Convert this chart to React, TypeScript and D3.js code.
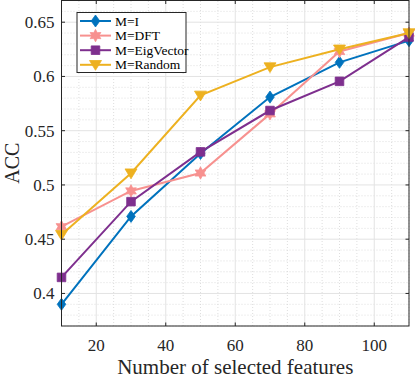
import React from 'react';
import * as d3 from 'd3';

// Data
const features = [10, 30, 50, 70, 90, 110];
const accIdentity = [0.390, 0.471, 0.529, 0.581, 0.613, 0.633];
const accDFT = [0.4615, 0.4945, 0.511, 0.5655, 0.623, 0.640];
const accEig = [0.4148, 0.4846, 0.5305, 0.5686, 0.5955, 0.6363];
const accRandom = [0.4541, 0.5108, 0.5825, 0.6086, 0.625, 0.640];
const xTicks = [20, 40, 60, 80, 100];
const yTicks = [0.4, 0.45, 0.5, 0.55, 0.6, 0.65];

const series = [
  { name: 'M=I', values: accIdentity, color: '#0072BD', marker: 'diamond' },
  { name: 'M=DFT', values: accDFT, color: '#F7918F', marker: 'hexagram' },
  { name: 'M=EigVector', values: accEig, color: '#7E2F8E', marker: 'square' },
  { name: 'M=Random', values: accRandom, color: '#EDB120', marker: 'triangle' },
];

const W = 415;
const H = 379;
const margin = { top: 0.5, right: 6, bottom: 53, left: 61.5 };
const font = '"Liberation Serif", "Times New Roman", serif';

function hexagram(r: number) {
  const pts: string[] = [];
  for (let i = 0; i < 12; i++) {
    const a = (Math.PI / 6) * i - Math.PI / 2;
    const rr = i % 2 === 0 ? r : r * 0.55;
    pts.push(`${(rr * Math.cos(a)).toFixed(2)},${(rr * Math.sin(a)).toFixed(2)}`);
  }
  return `M${pts.join('L')}Z`;
}

function markerPath(kind: string) {
  switch (kind) {
    case 'diamond':
      return 'M0,-6L4.3,0L0,6L-4.3,0Z';
    case 'square':
      return 'M-4.3,-4.3L4.3,-4.3L4.3,4.3L-4.3,4.3Z';
    case 'triangle':
      return 'M-6,-4.3L6,-4.3L0,5.5Z';
    default:
      return hexagram(6.2);
  }
}

export default function App() {
  const x0 = margin.left;
  const x1 = W - margin.right;
  const y0 = H - margin.bottom;
  const y1 = margin.top;

  const x = d3.scaleLinear().domain([10, 110]).range([x0, x1]);
  const y = d3.scaleLinear().domain([0.37, 0.67]).range([y0, y1]);

  const minorX = d3.range(10, 111, 5).filter(v => v % 20 !== 0);
  const majorX = x.ticks(5);
  const minorY = d3.range(0.37, 0.6701, 0.01).filter(v => Math.abs(v * 20 - Math.round(v * 20)) > 1e-6);

  const line = d3
    .line<number>()
    .x((_, i) => x(features[i]))
    .y(d => y(d));

  const legendX = 77;
  const legendY = 12.5;
  const rowH = 14.6;

  return (
    <svg
      width={W}
      height={H}
      style={{ position: 'absolute', left: 0, top: 0, background: '#fff' }}
      fontFamily={font}
    >
      {/* minor grid */}
      <g stroke="#d6d6d6" strokeWidth={0.8} strokeDasharray="1,2">
        {minorX.map(v => (
          <line key={'mx' + v} x1={x(v)} x2={x(v)} y1={y0} y2={y1} />
        ))}
        {minorY.map(v => (
          <line key={'my' + v} x1={x0} x2={x1} y1={y(v)} y2={y(v)} />
        ))}
      </g>
      {/* major grid */}
      <g stroke="#e3e3e3" strokeWidth={1}>
        {majorX.map(v => (
          <line key={'gx' + v} x1={x(v)} x2={x(v)} y1={y0} y2={y1} />
        ))}
        {yTicks.map(v => (
          <line key={'gy' + v} x1={x0} x2={x1} y1={y(v)} y2={y(v)} />
        ))}
      </g>

      {/* series */}
      {series.map(s => (
        <g key={s.name}>
          <path d={line(s.values) || ''} fill="none" stroke={s.color} strokeWidth={2} />
          {s.values.map((v, i) => (
            <path
              key={i}
              d={markerPath(s.marker)}
              transform={`translate(${x(features[i])},${y(v)})`}
              fill={s.color}
              stroke={s.color}
              strokeWidth={0.8}
            />
          ))}
        </g>
      ))}

      {/* frame and ticks */}
      <rect x={x0} y={y1} width={x1 - x0} height={y0 - y1} fill="none" stroke="#262626" strokeWidth={1} />
      <g stroke="#262626" strokeWidth={1}>
        {majorX.map(v => (
          <g key={'tx' + v}>
            <line x1={x(v)} x2={x(v)} y1={y0} y2={y0 - 3.5} />
            <line x1={x(v)} x2={x(v)} y1={y1} y2={y1 + 3.5} />
          </g>
        ))}
        {yTicks.map(v => (
          <g key={'ty' + v}>
            <line x1={x0} x2={x0 + 3.5} y1={y(v)} y2={y(v)} />
            <line x1={x1} x2={x1 - 3.5} y1={y(v)} y2={y(v)} />
          </g>
        ))}
      </g>

      {/* tick labels */}
      <g fontSize={17} fill="#262626">
        {xTicks.map(v => (
          <text key={'lx' + v} x={x(v)} y={y0 + 24.5} textAnchor="middle">
            {v}
          </text>
        ))}
        {yTicks.map(v => (
          <text key={'ly' + v} x={x0 - 7} y={y(v) + 6} textAnchor="end">
            {String(v)}
          </text>
        ))}
      </g>

      {/* axis titles */}
      <text x={(x0 + x1) / 2} y={H - 5} textAnchor="middle" fontSize={21} fill="#262626">
        Number of selected features
      </text>
      <text
        transform={`translate(18.5,${(y0 + y1) / 2}) rotate(-90)`}
        textAnchor="middle"
        fontSize={20}
        fill="#262626"
      >
        ACC
      </text>

      {/* legend */}
      <g>
        <rect x={legendX} y={legendY} width={109} height={60} fill="#fff" stroke="#262626" strokeWidth={1} />
        {series.map((s, i) => {
          const cy = legendY + 8.5 + i * rowH;
          return (
            <g key={'lg' + s.name}>
              <line x1={legendX + 3} x2={legendX + 34} y1={cy} y2={cy} stroke={s.color} strokeWidth={2} />
              <path
                d={markerPath(s.marker)}
                transform={`translate(${legendX + 18.5},${cy})`}
                fill={s.color}
                stroke={s.color}
                strokeWidth={0.8}
              />
              <text x={legendX + 38} y={cy + 4.5} fontSize={13.5} fill="#000">
                {s.name}
              </text>
            </g>
          );
        })}
      </g>
    </svg>
  );
}
